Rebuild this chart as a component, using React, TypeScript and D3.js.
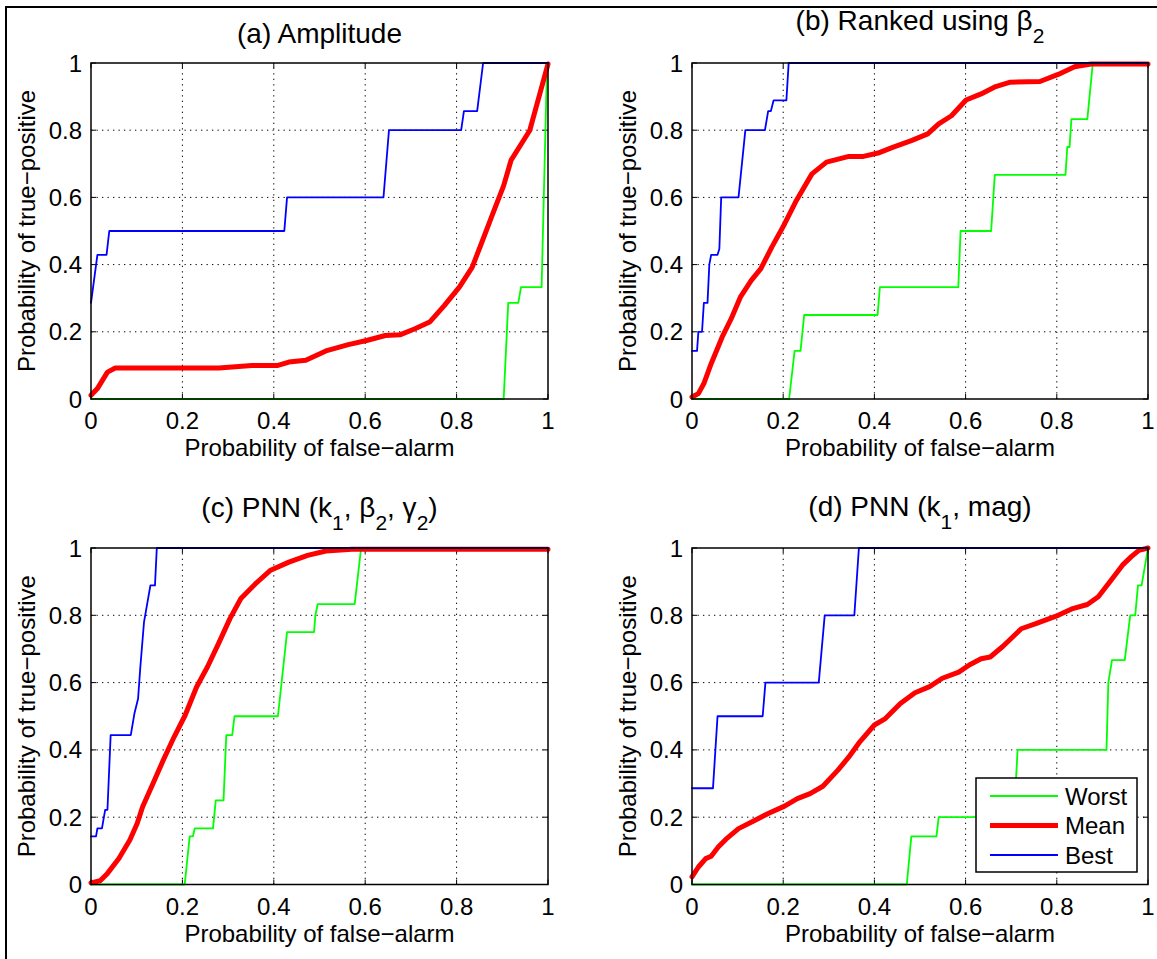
import React, { useEffect, useRef } from "react";
import * as d3 from "d3";

type Pt = [number, number];

// ---- panel (a) Amplitude
const aWorst: Pt[] = [[0, 0], [0.903, 0], [0.913, 0.286], [0.935, 0.286], [0.941, 0.333], [0.986, 0.333], [0.998, 1], [1, 1]];
const aMean: Pt[] = [[0, 0.011], [0.014, 0.031], [0.036, 0.08], [0.053, 0.092], [0.126, 0.092], [0.28, 0.092], [0.352, 0.1], [0.409, 0.1], [0.433, 0.11], [0.47, 0.115], [0.514, 0.143], [0.563, 0.162], [0.603, 0.174], [0.644, 0.189], [0.676, 0.191], [0.709, 0.209], [0.741, 0.229], [0.773, 0.278], [0.806, 0.333], [0.834, 0.392], [0.854, 0.462], [0.879, 0.551], [0.903, 0.635], [0.919, 0.71], [0.96, 0.799], [0.984, 0.918], [1, 0.997]];
const aBest: Pt[] = [[0, 0.286], [0.014, 0.429], [0.034, 0.429], [0.04, 0.5], [0.423, 0.5], [0.429, 0.6], [0.64, 0.6], [0.652, 0.8], [0.81, 0.8], [0.816, 0.857], [0.845, 0.857], [0.858, 1], [1, 1]];

// ---- panel (b) Ranked using beta2
const bWorst: Pt[] = [[0, 0], [0.213, 0], [0.225, 0.143], [0.238, 0.143], [0.246, 0.25], [0.407, 0.25], [0.412, 0.333], [0.584, 0.333], [0.589, 0.5], [0.656, 0.5], [0.664, 0.667], [0.819, 0.667], [0.823, 0.75], [0.828, 0.75], [0.832, 0.833], [0.867, 0.833], [0.879, 1], [1, 1]];
const bMean: Pt[] = [[0, 0.006], [0.014, 0.016], [0.026, 0.046], [0.042, 0.105], [0.066, 0.184], [0.086, 0.239], [0.106, 0.303], [0.13, 0.353], [0.151, 0.388], [0.175, 0.452], [0.203, 0.521], [0.227, 0.586], [0.263, 0.67], [0.295, 0.705], [0.344, 0.722], [0.376, 0.722], [0.408, 0.732], [0.44, 0.749], [0.481, 0.769], [0.517, 0.789], [0.541, 0.819], [0.569, 0.843], [0.601, 0.89], [0.634, 0.908], [0.666, 0.93], [0.698, 0.943], [0.763, 0.945], [0.803, 0.966], [0.839, 0.989], [0.875, 0.997], [1, 0.997]];
const bBest: Pt[] = [[0, 0.143], [0.011, 0.143], [0.014, 0.2], [0.022, 0.2], [0.026, 0.286], [0.034, 0.286], [0.038, 0.4], [0.042, 0.429], [0.056, 0.429], [0.06, 0.447], [0.064, 0.6], [0.102, 0.6], [0.117, 0.8], [0.16, 0.8], [0.167, 0.857], [0.173, 0.857], [0.179, 0.889], [0.207, 0.889], [0.212, 1], [1, 1]];

// ---- panel (c) PNN (k1, beta2, gamma2)
const cWorst: Pt[] = [[0, 0], [0.205, 0], [0.216, 0.143], [0.223, 0.143], [0.227, 0.167], [0.267, 0.167], [0.273, 0.25], [0.29, 0.25], [0.296, 0.444], [0.309, 0.444], [0.314, 0.5], [0.409, 0.5], [0.429, 0.75], [0.488, 0.75], [0.491, 0.8], [0.496, 0.833], [0.577, 0.833], [0.591, 1], [1, 1]];
const cMean: Pt[] = [[0, 0.005], [0.02, 0.011], [0.036, 0.033], [0.061, 0.077], [0.085, 0.132], [0.101, 0.181], [0.113, 0.231], [0.134, 0.295], [0.158, 0.369], [0.182, 0.439], [0.206, 0.503], [0.231, 0.587], [0.255, 0.647], [0.279, 0.716], [0.304, 0.79], [0.328, 0.85], [0.36, 0.894], [0.393, 0.934], [0.433, 0.958], [0.474, 0.978], [0.514, 0.991], [0.571, 0.996], [1, 0.996]];
const cBest: Pt[] = [[0, 0.143], [0.011, 0.143], [0.014, 0.167], [0.024, 0.167], [0.031, 0.222], [0.036, 0.222], [0.043, 0.444], [0.087, 0.444], [0.095, 0.508], [0.103, 0.552], [0.108, 0.647], [0.116, 0.78], [0.13, 0.889], [0.14, 0.889], [0.144, 1], [1, 1]];

// ---- panel (d) PNN (k1, mag)
const dWorst: Pt[] = [[0, 0], [0.471, 0], [0.481, 0.143], [0.536, 0.143], [0.541, 0.2], [0.706, 0.2], [0.714, 0.4], [0.909, 0.4], [0.913, 0.6], [0.921, 0.667], [0.949, 0.667], [0.961, 0.8], [0.972, 0.8], [0.978, 0.889], [0.986, 0.889], [1, 1]];
const dMean: Pt[] = [[0, 0.023], [0.014, 0.052], [0.03, 0.077], [0.042, 0.084], [0.058, 0.112], [0.074, 0.134], [0.102, 0.166], [0.134, 0.188], [0.167, 0.211], [0.203, 0.233], [0.231, 0.255], [0.259, 0.27], [0.287, 0.292], [0.32, 0.34], [0.344, 0.379], [0.368, 0.424], [0.4, 0.474], [0.424, 0.493], [0.457, 0.538], [0.489, 0.57], [0.521, 0.588], [0.549, 0.613], [0.585, 0.631], [0.609, 0.653], [0.634, 0.671], [0.654, 0.676], [0.682, 0.708], [0.722, 0.76], [0.754, 0.775], [0.803, 0.8], [0.835, 0.82], [0.867, 0.832], [0.891, 0.855], [0.919, 0.904], [0.944, 0.949], [0.964, 0.975], [0.98, 0.993], [1, 1]];
const dBest: Pt[] = [[0, 0.286], [0.046, 0.286], [0.056, 0.5], [0.155, 0.5], [0.161, 0.6], [0.278, 0.6], [0.291, 0.8], [0.356, 0.8], [0.366, 1], [1, 1]];

const ticks = [0, 0.2, 0.4, 0.6, 0.8, 1];
const tickLabels = ["0", "0.2", "0.4", "0.6", "0.8", "1"];
const seriesNames = ["Worst", "Mean", "Best"];
const seriesColors = ["#00ff00", "#ff0000", "#0000ff"];
const seriesWidths = [1.8, 5, 1.8];

const xLabel = "Probability of false\u2212alarm";
const yLabel = "Probability of true\u2212positive";

// title pieces: [text, isSubscript]
const titleA: [string, boolean][] = [["(a) Amplitude", false]];
const titleB: [string, boolean][] = [["(b) Ranked using \u03b2", false], ["2", true]];
const titleC: [string, boolean][] = [["(c) PNN (k", false], ["1", true], [", \u03b2", false], ["2", true], [", \u03b3", false], ["2", true], [")", false]];
const titleD: [string, boolean][] = [["(d) PNN (k", false], ["1", true], [", mag)", false]];

const panels = [
  { left: 91, top: 63, w: 457, h: 336, title: titleA, titleY: 43, data: [aWorst, aMean, aBest], legend: false },
  { left: 692, top: 63, w: 456, h: 336, title: titleB, titleY: 30, data: [bWorst, bMean, bBest], legend: false },
  { left: 91, top: 548, w: 457, h: 336.5, title: titleC, titleY: 517, data: [cWorst, cMean, cBest], legend: false },
  { left: 692, top: 548, w: 456, h: 336.5, title: titleD, titleY: 516, data: [dWorst, dMean, dBest], legend: true },
];

const FONT = "'Liberation Sans', Arial, Helvetica, sans-serif";
const FS = 24;

export default function App() {
  const ref = useRef<SVGSVGElement>(null);

  useEffect(() => {
    const svg = d3.select(ref.current);
    svg.selectAll("*").remove();

    svg.append("rect").attr("width", 1157).attr("height", 959).attr("fill", "#fff");
    // figure frame (top + left visible)
    svg.append("line").attr("x1", 5).attr("x2", 1157).attr("y1", 7).attr("y2", 7).attr("stroke", "#000").attr("stroke-width", 2);
    svg.append("line").attr("x1", 6).attr("x2", 6).attr("y1", 6).attr("y2", 959).attr("stroke", "#000").attr("stroke-width", 2);

    panels.forEach((p) => {
      const x = d3.scaleLinear().domain([0, 1]).range([p.left, p.left + p.w]);
      const y = d3.scaleLinear().domain([0, 1]).range([p.top + p.h, p.top]);
      const g = svg.append("g").attr("font-family", FONT);

      // grid
      ticks.slice(1, -1).forEach((t) => {
        g.append("line").attr("x1", x(t)).attr("x2", x(t)).attr("y1", y(0)).attr("y2", y(1))
          .attr("stroke", "#000").attr("stroke-width", 1).attr("stroke-dasharray", "1.3,4.2");
        g.append("line").attr("x1", x(0)).attr("x2", x(1)).attr("y1", y(t)).attr("y2", y(t))
          .attr("stroke", "#000").attr("stroke-width", 1).attr("stroke-dasharray", "1.3,4.2");
      });

      // ticks inside on all sides
      const tl = 5;
      ticks.forEach((t) => {
        g.append("line").attr("x1", x(t)).attr("x2", x(t)).attr("y1", y(0)).attr("y2", y(0) - tl).attr("stroke", "#000");
        g.append("line").attr("x1", x(t)).attr("x2", x(t)).attr("y1", y(1)).attr("y2", y(1) + tl).attr("stroke", "#000");
        g.append("line").attr("x1", x(0)).attr("x2", x(0) + tl).attr("y1", y(t)).attr("y2", y(t)).attr("stroke", "#000");
        g.append("line").attr("x1", x(1)).attr("x2", x(1) - tl).attr("y1", y(t)).attr("y2", y(t)).attr("stroke", "#000");
      });

      // series
      const line = d3.line<Pt>().x((d) => x(d[0])).y((d) => y(d[1]));
      p.data.forEach((s, i) => {
        g.append("path").attr("d", line(s)).attr("fill", "none")
          .attr("stroke", seriesColors[i]).attr("stroke-width", seriesWidths[i])
          .attr("stroke-linejoin", "round").attr("stroke-linecap", "round");
      });

      // box
      g.append("rect").attr("x", x(0)).attr("y", y(1)).attr("width", x(1) - x(0)).attr("height", y(0) - y(1))
        .attr("fill", "none").attr("stroke", "#000").attr("stroke-width", 1.5);

      // tick labels
      ticks.forEach((t, i) => {
        g.append("text").attr("x", x(t)).attr("y", y(0) + 30).attr("text-anchor", "middle")
          .attr("font-size", FS).text(tickLabels[i]);
        g.append("text").attr("x", x(0) - 9).attr("y", y(t) + 8.5).attr("text-anchor", "end")
          .attr("font-size", FS).text(tickLabels[i]);
      });

      // axis labels
      g.append("text").attr("x", (x(0) + x(1)) / 2).attr("y", y(0) + 57).attr("text-anchor", "middle")
        .attr("font-size", FS).text(xLabel);
      g.append("text").attr("transform", `translate(${x(0) - 56},${(y(0) + y(1)) / 2}) rotate(-90)`)
        .attr("text-anchor", "middle").attr("font-size", FS).text(yLabel);

      // title
      const tt = g.append("text").attr("x", (x(0) + x(1)) / 2).attr("y", p.titleY)
        .attr("text-anchor", "middle").attr("font-size", 28);
      let shifted = false;
      p.title.forEach(([s, sub]) => {
        const ts = tt.append("tspan").text(s);
        if (sub && !shifted) { ts.attr("dy", 13).attr("font-size", 21); shifted = true; }
        else if (sub) { ts.attr("font-size", 21); }
        else if (!sub && shifted) { ts.attr("dy", -13); shifted = false; }
      });

      // legend
      if (p.legend) {
        const lg = g.append("g");
        lg.append("rect").attr("x", 976).attr("y", 778).attr("width", 161).attr("height", 94)
          .attr("fill", "#fff").attr("stroke", "#000").attr("stroke-width", 1.5);
        seriesNames.forEach((n, i) => {
          const ly = 796 + i * 29.5;
          lg.append("line").attr("x1", 990).attr("x2", 1058).attr("y1", ly).attr("y2", ly)
            .attr("stroke", seriesColors[i]).attr("stroke-width", seriesWidths[i]);
          lg.append("text").attr("x", 1065).attr("y", ly + 8.5).attr("font-size", FS).text(n);
        });
      }
    });
  }, []);

  return (
    <svg ref={ref} width={1157} height={959} style={{ position: "absolute", left: 0, top: 0 }} />
  );
}
